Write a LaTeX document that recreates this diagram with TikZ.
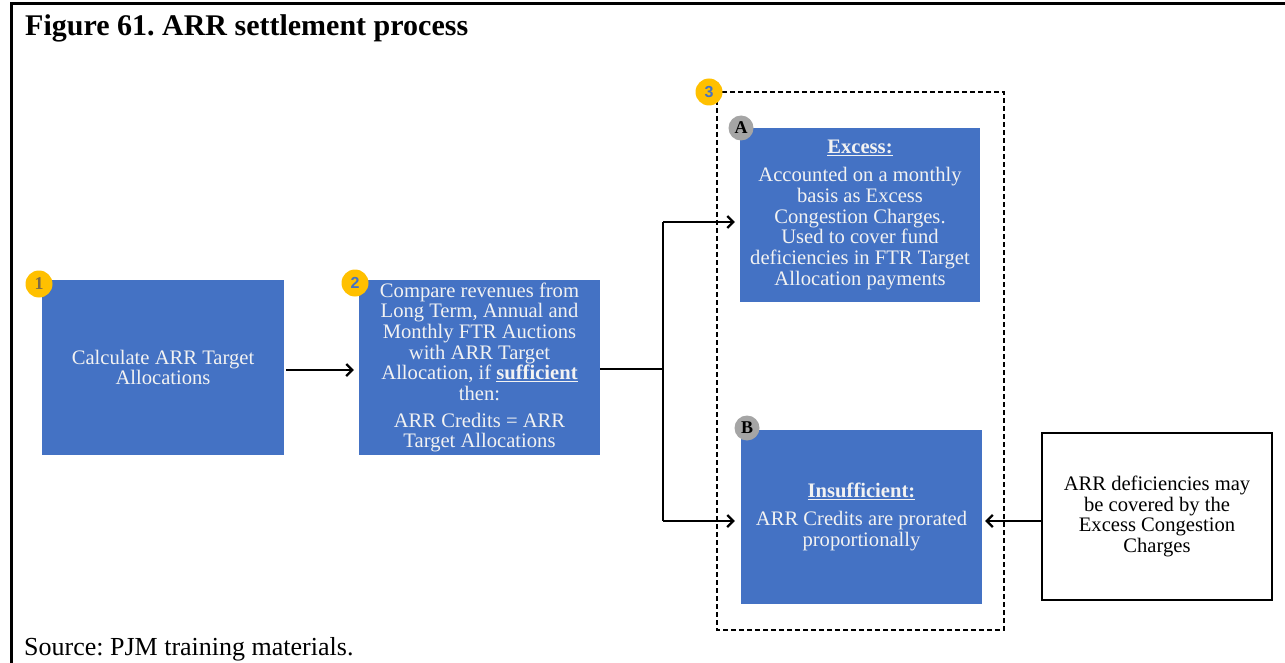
\documentclass[tikz,border=0pt]{standalone}
\usepackage{fontspec}
\setmainfont{Liberation Serif}
\setsansfont{Liberation Sans}
\usetikzlibrary{arrows.meta}
\definecolor{stepblue}{HTML}{4472C4}
\definecolor{badgegold}{HTML}{FFC000}
\definecolor{badgegrey}{HTML}{A5A5A5}
\definecolor{boxtext}{HTML}{F2F2F2}
\definecolor{numbrown}{HTML}{7A6A4A}
\tikzset{
  bluebox/.style={fill=stepblue, draw=none, text=boxtext, align=center,
    font=\fontsize{20.6}{20.7}\selectfont, inner sep=0pt},
  notebox/.style={fill=white, draw=black, line width=1.2pt, align=center,
    font=\fontsize{20.6}{20.9}\selectfont, inner sep=0pt},
  goldbadge/.style={circle, fill=badgegold, minimum size=27pt, inner sep=0pt,
    font=\sffamily\bfseries\fontsize{16}{16}\selectfont, text=stepblue},
  greybadge/.style={circle, fill=badgegrey, minimum size=25pt, inner sep=0pt,
    font=\bfseries\fontsize{18}{18}\selectfont, text=black},
  flow/.style={line width=2.2pt, -{Straight Barb[length=6pt,width=12pt,line width=2.2pt]}},
  link/.style={line width=2.2pt},
  frame/.style={line width=3pt}
}
\newcommand{\ul}[1]{\underline{\textbf{#1}}}
\begin{document}
\frenchspacing
\begin{tikzpicture}[x=1pt,y=-1pt]
  \useasboundingbox (0,0) rectangle (1285,663);
  % outer frame: top rule and left rule
  \draw[frame] (1285,4) -- (11,4) -- (11,663);
  \node[anchor=base west, inner sep=0pt, font=\bfseries\fontsize{30}{30}\selectfont] (title) at (25,36)
    {Figure 61. ARR settlement process};
  \node[anchor=base west, inner sep=0pt, font=\fontsize{26}{26}\selectfont] (source) at (24,655)
    {Source: PJM training materials.};

  % step 1 and 2
  \node[bluebox, minimum width=242pt, minimum height=175pt] (calc) at (163,367.5)
    {Calculate ARR Target\\Allocations};
  \node[bluebox, minimum width=241pt, minimum height=175pt] (compare) at (479.5,367.5)
    {Compare revenues from\\Long Term, Annual and\\Monthly FTR Auctions\\with ARR Target\\Allocation, if \ul{sufficient}\\then:\\[6pt]ARR Credits = ARR\\Target Allocations};

  % step 3 group
  \draw[dashed, line width=1.2pt, dash pattern=on 5pt off 3pt] (717,92) rectangle (1004,630);
  \node[bluebox, minimum width=240pt, minimum height=174pt] (excess) at (860,215)
    {\ul{Excess:}\\[7pt]Accounted on a monthly\\basis as Excess\\Congestion Charges.\\Used to cover fund\\deficiencies in FTR Target\\Allocation payments};
  \node[bluebox, minimum width=241pt, minimum height=174pt] (insuff) at (861.5,517)
    {\ul{Insufficient:}\\[7pt]ARR Credits are prorated\\proportionally};
  \node[notebox, minimum width=230pt, minimum height=167pt] (note) at (1157,516.5)
    {ARR deficiencies may\\be covered by the\\Excess Congestion\\Charges};

  % numbered and lettered badges
  \node[goldbadge, font=\bfseries\fontsize{18}{18}\selectfont, text=numbrown] (b1) at (39,284) {1};
  \node[goldbadge] (b2) at (355,283) {2};
  \node[goldbadge] (b3) at (709,92) {3};
  \node[greybadge] (bA) at (741,128) {A};
  \node[greybadge] (bB) at (747,428) {B};

  % connectors
  \coordinate (split) at (663,369);
  \coordinate (upper) at (663,222);
  \coordinate (lower) at (663,521);
  \draw[flow, shorten <=2pt, shorten >=5pt] (calc.east |- 0,370) -- (compare.west |- 0,370);
  \draw[link] (compare.east |- split) -- (split);
  \draw[link] (upper) -- (lower);
  \draw[flow, shorten >=5pt] (upper) -- (excess.west |- upper);
  \draw[flow, shorten >=6pt] (lower) -- (insuff.west |- lower);
  \draw[flow, shorten >=3pt] (note.west |- lower) -- (insuff.east |- lower);
\end{tikzpicture}
\end{document}
